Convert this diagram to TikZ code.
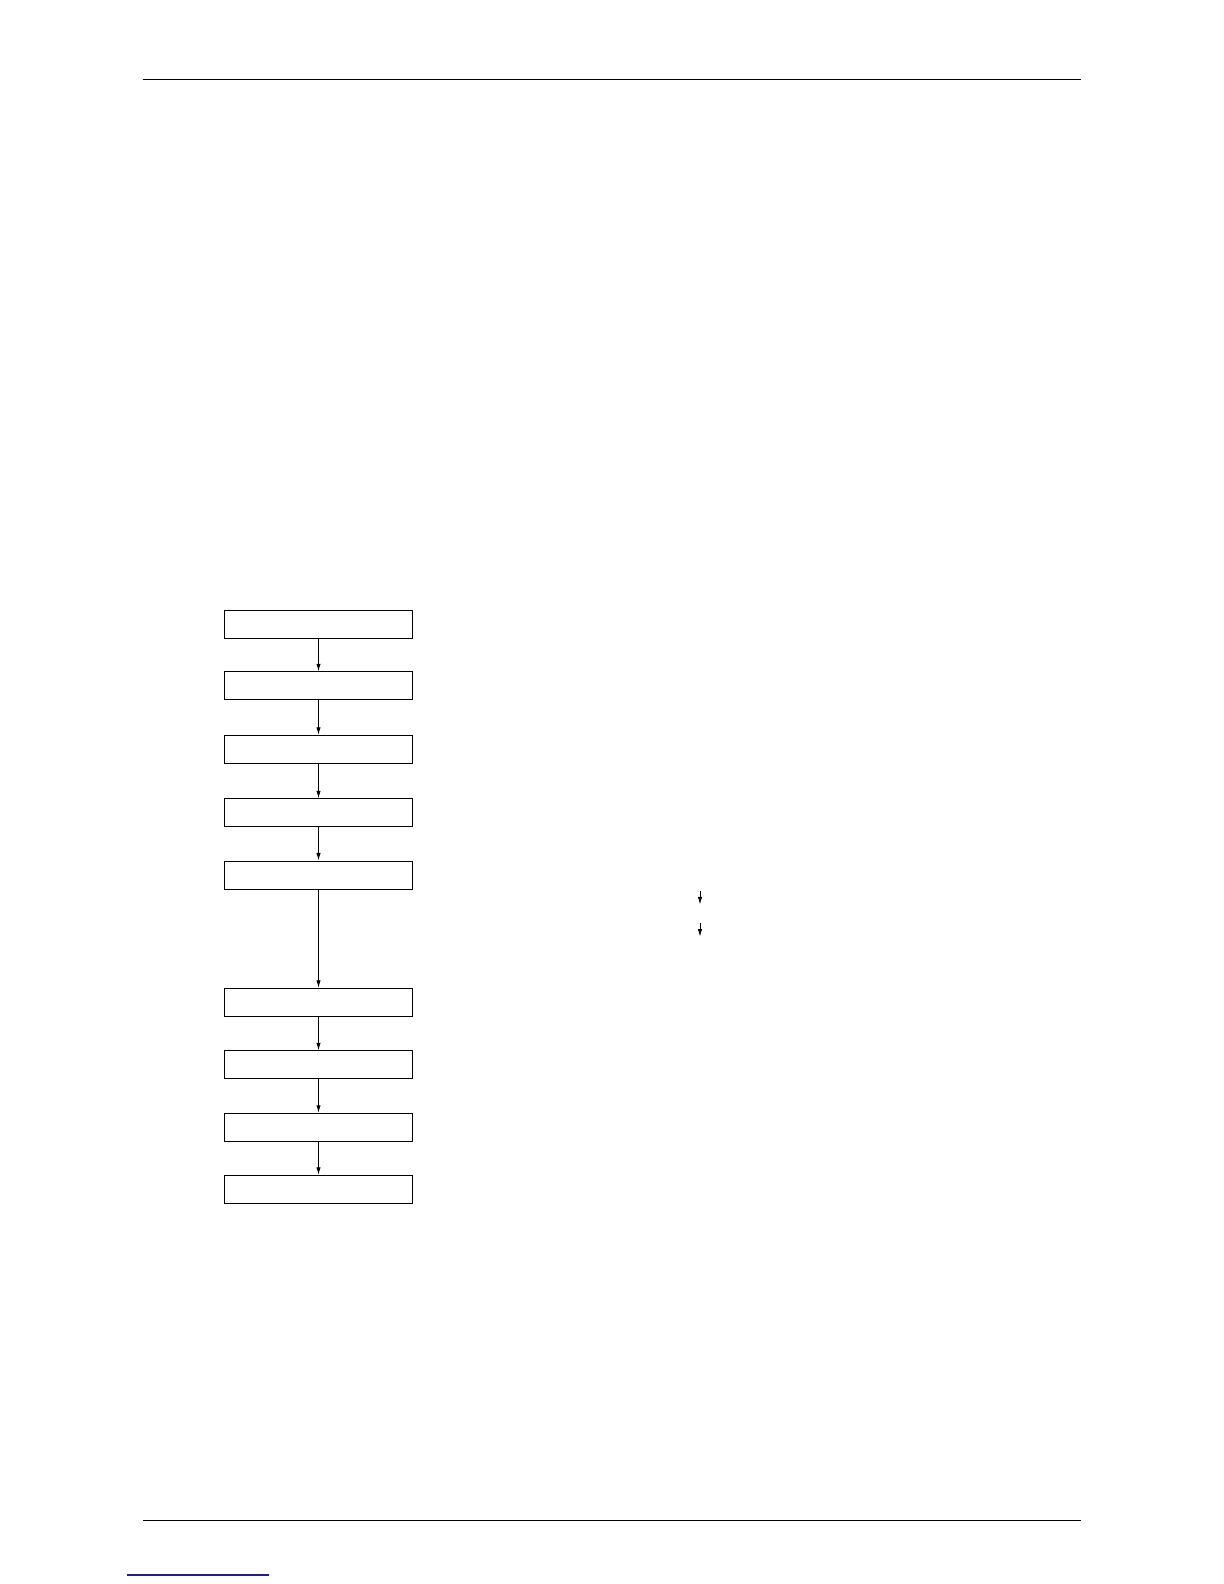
\documentclass[tikz,border=0pt]{standalone}
\usetikzlibrary{arrows.meta}
\definecolor{linkblue}{RGB}{30,30,140}
\def\steps{{(318.5,624.5)/p1}, {(318.5,685.8)/p2}, {(318.5,749.3)/p3}, {(318.5,812.8)/p4}, {(318.5,875)/p5}, {(318.5,1002.3)/p6}, {(318.5,1064.8)/p7}, {(318.5,1127.3)/p8}, {(318.5,1189.3)/p9}}
\def\flow{p1/p2, p2/p3, p3/p4, p4/p5, p5/p6, p6/p7, p7/p8, p8/p9}
\tikzstyle{stepbox}=[draw,rectangle,line width=0.45pt,minimum width=94.2pt,minimum height=14pt,inner sep=0pt]
\tikzstyle{flowedge}=[draw,line width=0.45pt,-{Latex[length=3.8pt,width=2.2pt]}]
\tikzstyle{rule}=[draw,line width=0.65pt]
\begin{document}
\begin{tikzpicture}[x=0.5pt,y=-0.5pt]
  \useasboundingbox (0,0) rectangle (1224,1584);
  % page rules and link
  \coordinate (tl) at (142.7,79.3);
  \coordinate (tr) at (1081,79.3);
  \coordinate (bl) at (143,1520.3);
  \coordinate (br) at (1081,1520.3);
  \coordinate (ll) at (127,1575);
  \coordinate (lr) at (269,1575);
  \path[rule] (tl) -- (tr);
  \path[rule] (bl) -- (br);
  \path[draw,line width=0.6pt,linkblue] (ll) -- (lr);

  % the empty step boxes
  \foreach \pos/\name in \steps
    \node[stepbox] (\name) at \pos {};

  % connect the steps
  \foreach \source/ \dest in \flow
    \path[flowedge] (\source) -- (\dest);

  % the two small arrows
  \coordinate (a1) at (700,891);
  \coordinate (a2) at (700,904.5);
  \coordinate (b1) at (700,922.7);
  \coordinate (b2) at (700,936.7);
  \path[flowedge] (a1) -- (a2);
  \path[flowedge] (b1) -- (b2);
\end{tikzpicture}
\end{document}
